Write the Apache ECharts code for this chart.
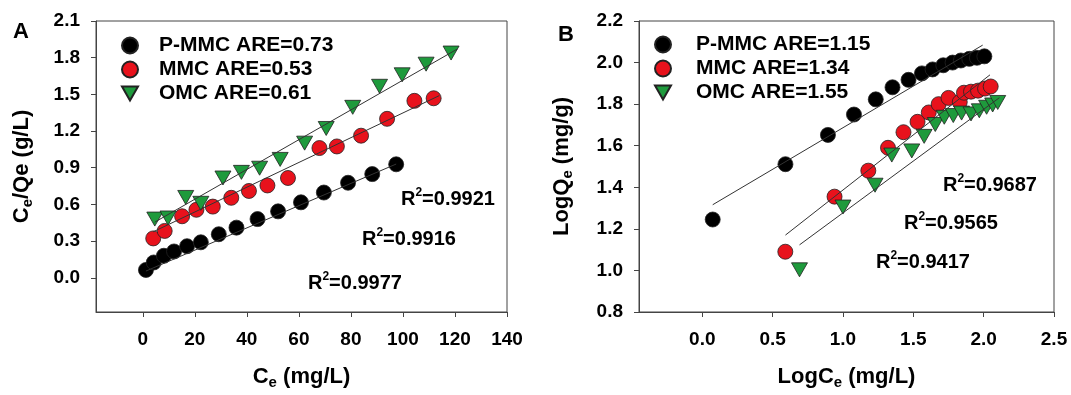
<!DOCTYPE html>
<html>
<head>
<meta charset="utf-8">
<script src="https://cdn.jsdelivr.net/npm/echarts@6/dist/echarts.min.js"></script>
<style>
  html, body { margin: 0; padding: 0; background: #fff; }
  #chart { width: 1071px; height: 395px; }
</style>
</head>
<body>
<div id="chart"></div>
<script>
// ---- panel A : Ce vs Ce/Qe ----
const aPmmcCe    = [1.2, 4.2, 8.1, 12.0, 17.0, 22.3, 29.2, 36.0, 44.1, 52.0, 60.8, 69.6, 78.9, 88.2, 97.4];
const aPmmcRatio = [0.064, 0.125, 0.18, 0.215, 0.258, 0.29, 0.356, 0.41, 0.48, 0.543, 0.617, 0.697, 0.777, 0.848, 0.928];
const aMmcCe     = [4.0, 8.4, 15.1, 20.6, 26.9, 34.0, 40.8, 47.9, 55.8, 67.9, 74.6, 83.9, 93.9, 104.4, 111.8];
const aMmcRatio  = [0.322, 0.383, 0.503, 0.556, 0.582, 0.654, 0.71, 0.755, 0.816, 1.061, 1.074, 1.162, 1.30, 1.447, 1.468];
const aOmcCe     = [4.6, 9.7, 16.5, 22.3, 30.8, 37.9, 44.9, 52.8, 62.2, 70.5, 80.7, 91.0, 99.7, 108.9, 118.5];
const aOmcRatio  = [0.48, 0.489, 0.657, 0.609, 0.816, 0.862, 0.896, 0.968, 1.101, 1.221, 1.394, 1.566, 1.66, 1.747, 1.838];
// fitted lines (end points)
const aPmmcFit = [[1.2, 0.055], [97.4, 0.93]];
const aMmcFit  = [[4.0, 0.376], [114, 1.49]];
const aOmcFit  = [[4.6, 0.455], [121, 1.872]];
const aNames = ['P-MMC ARE=0.73', 'MMC ARE=0.53', 'OMC ARE=0.61'];
const aR2 = ['0.9977', '0.9916', '0.9921'];
const aXTicks = [0, 20, 40, 60, 80, 100, 120, 140];
const aYTicks = [0.0, 0.3, 0.6, 0.9, 1.2, 1.5, 1.8, 2.1];

// ---- panel B : LogCe vs LogQe ----
const bPmmcLogC = [0.074, 0.591, 0.893, 1.078, 1.233, 1.352, 1.466, 1.561, 1.637, 1.713, 1.779, 1.838, 1.898, 1.952, 2.005];
const bPmmcLogQ = [1.245, 1.511, 1.652, 1.75, 1.823, 1.881, 1.917, 1.948, 1.967, 1.987, 2.0, 2.01, 2.018, 2.023, 2.03];
const bMmcLogC  = [0.59, 0.94, 1.18, 1.32, 1.43, 1.53, 1.61, 1.68, 1.75, 1.83, 1.86, 1.91, 1.96, 2.01, 2.05];
const bMmcLogQ  = [1.09, 1.355, 1.48, 1.59, 1.665, 1.715, 1.76, 1.80, 1.83, 1.81, 1.855, 1.86, 1.865, 1.875, 1.885];
const bOmcLogC  = [0.691, 1.0, 1.228, 1.347, 1.489, 1.577, 1.656, 1.72, 1.784, 1.843, 1.91, 1.969, 2.021, 2.064, 2.1];
const bOmcLogQ  = [1.003, 1.305, 1.41, 1.555, 1.575, 1.645, 1.702, 1.737, 1.745, 1.757, 1.753, 1.768, 1.785, 1.796, 1.808];
const bPmmcFit = [[0.074, 1.316], [1.993, 2.084]];
const bMmcFit  = [[0.591, 1.170], [2.045, 1.941]];
const bOmcFit  = [[0.691, 1.123], [2.112, 1.831]];
const bNames = ['P-MMC ARE=1.15', 'MMC ARE=1.34', 'OMC ARE=1.55'];
const bR2 = ['0.9687', '0.9565', '0.9417'];
const bXTicks = [0.0, 0.5, 1.0, 1.5, 2.0, 2.5];

const FONT = 'Arial, "Liberation Sans", sans-serif';
const colors = ['#000000', '#e8121c', '#1e9a3c'];
const triDown = 'path://M0,0L10,0L5,8.7Z';
const symbols = ['circle', 'circle', triDown];

function zip(xs, ys) { return xs.map((x, i) => [x, ys[i]]); }

const richTxt = {
  n: { fontSize: 20, fontWeight: 'bold', fontFamily: FONT, color: '#000' },
  sup: { fontSize: 12, fontWeight: 'bold', fontFamily: FONT, color: '#000', padding: [0, 0, 12, 0] },
  sub: { fontSize: 14, fontWeight: 'bold', fontFamily: FONT, color: '#000', padding: [10, 0, 0, 0] }
};
const richTitle = {
  n: { fontSize: 22, fontWeight: 'bold', fontFamily: FONT, color: '#000' },
  sub: { fontSize: 15, fontWeight: 'bold', fontFamily: FONT, color: '#000', padding: [11, 0, 0, 0] }
};

function scatter(name, data, idx, xi) {
  return {
    name: name, type: 'scatter', xAxisIndex: xi, yAxisIndex: xi,
    data: data, symbol: symbols[idx],
    symbolSize: idx === 2 ? [16, 14] : 15,
    itemStyle: { color: colors[idx], borderColor: '#222', borderWidth: 0.8, opacity: 1 },
    z: 2
  };
}
function fit(data, xi) {
  return {
    type: 'line', xAxisIndex: xi, yAxisIndex: xi, data: data, symbol: 'none', silent: true,
    lineStyle: { color: '#333', width: 1 }, z: 3
  };
}

function axisCommon() {
  return {
    type: 'value',
    axisLine: { show: true, onZero: false, lineStyle: { color: '#444', width: 1 } },
    axisTick: { show: true, inside: false, length: 5, lineStyle: { color: '#444' } },
    splitLine: { show: false },
    axisLabel: { fontSize: 19, fontWeight: 'bold', color: '#000', fontFamily: FONT }
  };
}

const chart = echarts.init(document.getElementById('chart'), null, { renderer: 'canvas' });

const xA = axisCommon();
Object.assign(xA, { gridIndex: 0, min: -18, max: 140,
  name: '{n|C}{sub|e}{n| (mg/L)}', nameLocation: 'middle', nameGap: 52,
  nameTextStyle: { rich: richTitle } });
xA.axisTick.customValues = aXTicks;
xA.axisLabel.customValues = aXTicks;
xA.axisLabel.margin = 18;
xA.axisLabel.formatter = v => String(v);

const yA = axisCommon();
Object.assign(yA, { gridIndex: 0, min: -0.28, max: 2.1,
  name: '{n|C}{sub|e}{n|/Qe (g/L)}', nameLocation: 'middle', nameGap: 61,
  nameTextStyle: { rich: richTitle } });
yA.axisTick.customValues = aYTicks;
yA.axisLabel.customValues = aYTicks;
yA.axisLabel.margin = 16;
yA.axisLabel.formatter = v => v.toFixed(1);

const xB = axisCommon();
Object.assign(xB, { gridIndex: 1, min: -0.45, max: 2.5,
  name: '{n|LogC}{sub|e}{n| (mg/L)}', nameLocation: 'middle', nameGap: 52,
  nameTextStyle: { rich: richTitle } });
xB.axisTick.customValues = bXTicks;
xB.axisLabel.customValues = bXTicks;
xB.axisLabel.margin = 18;
xB.axisLabel.formatter = v => v.toFixed(1);

const yB = axisCommon();
Object.assign(yB, { gridIndex: 1, min: 0.8, max: 2.2, interval: 0.2,
  name: '{n|LogQ}{sub|e}{n| (mg/g)}', nameLocation: 'middle', nameGap: 64,
  nameTextStyle: { rich: richTitle } });
yB.axisLabel.margin = 16;
yB.axisLabel.formatter = v => v.toFixed(1);

function legend(names, left, top, pad) {
  return {
    data: names, orient: 'vertical', left: left, top: top, padding: 0,
    itemWidth: 16, itemHeight: 16, itemGap: 3, selectedMode: false,
    textStyle: { fontSize: 21, fontWeight: 'bold', color: '#000', fontFamily: FONT, padding: [0, 0, 0, pad] }
  };
}

function r2Text(val, x, y) {
  return {
    type: 'text', x: x, y: y,
    style: { text: '{n|R}{sup|2}{n|=' + val + '}', rich: richTxt, verticalAlign: 'middle' }
  };
}

const option = {
  backgroundColor: '#fff',
  animation: false,
  grid: [
    { left: 96, top: 21, width: 411, height: 299, show: true, borderColor: '#444', borderWidth: 1, backgroundColor: 'transparent' },
    { left: 639, top: 21, width: 415, height: 299, show: true, borderColor: '#444', borderWidth: 1, backgroundColor: 'transparent' }
  ],
  xAxis: [xA, xB],
  yAxis: [yA, yB],
  legend: [legend(aNames, 121, 35, 16), legend(bNames, 654, 34, 20)],
  series: [
    scatter(aNames[0], zip(aPmmcCe, aPmmcRatio), 0, 0),
    scatter(aNames[1], zip(aMmcCe, aMmcRatio), 1, 0),
    scatter(aNames[2], zip(aOmcCe, aOmcRatio), 2, 0),
    fit(aPmmcFit, 0), fit(aMmcFit, 0), fit(aOmcFit, 0),
    scatter(bNames[0], zip(bPmmcLogC, bPmmcLogQ), 0, 1),
    scatter(bNames[1], zip(bMmcLogC, bMmcLogQ), 1, 1),
    scatter(bNames[2], zip(bOmcLogC, bOmcLogQ), 2, 1),
    fit(bPmmcFit, 1), fit(bMmcFit, 1), fit(bOmcFit, 1)
  ],
  graphic: [
    { type: 'text', x: 13, y: 32, style: { text: 'A', font: 'bold 22px ' + FONT, fill: '#000', verticalAlign: 'middle' } },
    { type: 'text', x: 558, y: 35, style: { text: 'B', font: 'bold 22px ' + FONT, fill: '#000', verticalAlign: 'middle' } },
    r2Text(aR2[2], 401, 199),
    r2Text(aR2[1], 362, 239),
    r2Text(aR2[0], 308, 283),
    r2Text(bR2[0], 943, 185),
    r2Text(bR2[1], 904, 223),
    r2Text(bR2[2], 876, 262)
  ]
};
chart.setOption(option);
</script>
</body>
</html>
